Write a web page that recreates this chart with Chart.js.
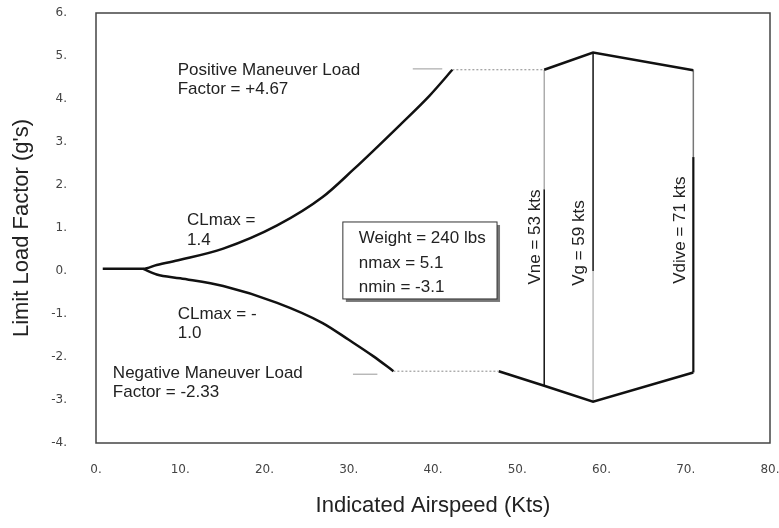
<!DOCTYPE html>
<html>
<head>
<meta charset="utf-8">
<script src="https://cdn.jsdelivr.net/npm/chart.js@4.4.0/dist/chart.umd.min.js"></script>
<style>
html, body { margin: 0; padding: 0; background: #fff; }
#wrap { width: 779px; height: 528px; }
</style>
</head>
<body>
<div id="wrap"><canvas id="vn" width="779" height="528"></canvas></div>
<script>
var xTickValues = [0, 10, 20, 30, 40, 50, 60, 70, 80];
var yTickValues = [-4, -3, -2, -1, 0, 1, 2, 3, 4, 5, 6];

// stall curve, CLmax = 1.4
var posSpeed = [0.8, 5.6, 7.2, 10.0, 15.1, 21.5, 26.9, 30.5, 36.1, 39.6, 42.3];
var posLoad = [0.05, 0.05, 0.14, 0.26, 0.52, 1.06, 1.72, 2.35, 3.40, 4.08, 4.68];
// stall curve, CLmax = -1.0
var negSpeed = [5.6, 7.2, 10.0, 15.1, 21.5, 26.9, 30.0, 32.9, 35.3];
var negLoad = [0.05, -0.08, -0.17, -0.35, -0.74, -1.21, -1.60, -1.98, -2.33];

// maneuver load limits
var posLimitSpeed = [42.3, 53.2];
var posLimitLoad = [4.68, 4.68];
var negLimitSpeed = [35.3, 47.8];
var negLimitLoad = [-2.33, -2.33];

// gust envelope
var gustTopSpeed = [53.2, 59.0, 70.9];
var gustTopLoad = [4.68, 5.08, 4.67];
var gustBotSpeed = [47.8, 53.2, 59.0, 70.9];
var gustBotLoad = [-2.33, -2.67, -3.04, -2.36];

// Vne, Vg, Vdive (scan shows each line part grey, part black)
var vSpeeds = [53.2, 59.0, 70.9];
var vTop = [4.68, 5.08, 4.67];
var vBreak = [1.9, 0.0, 2.65];
var vBottom = [-2.67, -3.04, -2.36];
var vLabels = ['Vne = 53 kts', 'Vg = 59 kts', 'Vdive = 71 kts'];

// little leader dashes next to the maneuver labels
var posLeaderSpeed = [37.6, 41.1];
var posLeaderLoad = [4.70, 4.70];
var negLeaderSpeed = [30.5, 33.4];
var negLeaderLoad = [-2.40, -2.40];

var boxLines = ['Weight = 240 lbs', 'nmax = 5.1', 'nmin = -3.1'];

const pts = (xs, ys) => xs.map((x, i) => ({ x: x, y: ys[i] }));

const line = (data, color, width, extra) => Object.assign({
    data: data,
    showLine: true,
    borderColor: color,
    borderWidth: width,
    pointRadius: 0,
    fill: false
}, extra || {});

var datasets = [
    line(pts(posSpeed, posLoad), '#111', 2.5, { cubicInterpolationMode: 'monotone' }),
    line(pts(negSpeed, negLoad), '#111', 2.5, { cubicInterpolationMode: 'monotone' }),
    line(pts(posLimitSpeed, posLimitLoad), '#888', 1, { borderDash: [2, 2] }),
    line(pts(negLimitSpeed, negLimitLoad), '#888', 1, { borderDash: [2, 2] }),
    line(pts(gustTopSpeed, gustTopLoad), '#111', 2.5),
    line(pts(gustBotSpeed, gustBotLoad), '#111', 2.5),
    line(pts(posLeaderSpeed, posLeaderLoad), '#999', 1),
    line(pts(negLeaderSpeed, negLeaderLoad), '#999', 1)
];
var vUpper = [['#999', 1.2], ['#111', 1.5], ['#777', 1.5]];
var vLower = [['#111', 1.5], ['#aaa', 1.2], ['#111', 2.2]];
vSpeeds.forEach(function (v, i) {
    datasets.push(line([{ x: v, y: vBreak[i] }, { x: v, y: vTop[i] }], vUpper[i][0], vUpper[i][1]));
    datasets.push(line([{ x: v, y: vBottom[i] }, { x: v, y: vBreak[i] }], vLower[i][0], vLower[i][1]));
});

const FONT = '"Liberation Sans", Arial, sans-serif';

var annotate = {
    id: 'annotate',
    afterDatasetsDraw: function (chart) {
        var ctx = chart.ctx, a = chart.chartArea;
        var px = v => chart.scales.x.getPixelForValue(v);
        var py = v => chart.scales.y.getPixelForValue(v);
        ctx.save();

        // frame
        ctx.strokeStyle = '#444';
        ctx.lineWidth = 1.5;
        ctx.strokeRect(a.left, a.top, a.right - a.left, a.bottom - a.top);

        ctx.font = '17px ' + FONT;
        ctx.fillStyle = '#222';
        ctx.textBaseline = 'middle';
        ctx.textAlign = 'left';
        ctx.fillText('Positive Maneuver Load', px(9.7), py(4.67));
        ctx.fillText('Factor = +4.67', px(9.7), py(4.23));
        ctx.fillText('CLmax =', px(10.8), py(1.19));
        ctx.fillText('1.4', px(10.8), py(0.72));
        ctx.fillText('CLmax = -', px(9.7), py(-1.0));
        ctx.fillText('1.0', px(9.7), py(-1.44));
        ctx.fillText('Negative Maneuver Load', px(2.0), py(-2.37));
        ctx.fillText('Factor = -2.33', px(2.0), py(-2.81));

        // info box with shadow
        var bx = px(29.3), by = py(1.14), bw = px(47.6) - bx, bh = py(-0.65) - by;
        ctx.fillStyle = '#777';
        ctx.fillRect(bx + 3, by + 3, bw, bh);
        ctx.fillStyle = '#fff';
        ctx.fillRect(bx, by, bw, bh);
        ctx.strokeStyle = '#333';
        ctx.lineWidth = 1;
        ctx.strokeRect(bx, by, bw, bh);
        ctx.fillStyle = '#222';
        [0.77, 0.19, -0.37].forEach(function (y, i) {
            ctx.fillText(boxLines[i], px(31.2), py(y));
        });

        // speed labels, rotated
        ctx.textAlign = 'center';
        [[52.2, 0.79], [57.4, 0.65], [69.3, 0.95]].forEach(function (p, i) {
            ctx.save();
            ctx.translate(px(p[0]), py(p[1]));
            ctx.rotate(-Math.PI / 2);
            ctx.fillText(vLabels[i], 0, 0);
            ctx.restore();
        });
        ctx.restore();
    }
};

new Chart(document.getElementById('vn'), {
    type: 'scatter',
    data: { datasets: datasets },
    options: {
        responsive: false,
        animation: false,
        layout: { padding: { top: 13, right: 9, left: 0, bottom: 0 } },
        plugins: { legend: { display: false }, tooltip: { enabled: false } },
        scales: {
            x: {
                type: 'linear', min: 0, max: 80,
                afterBuildTicks: s => { s.ticks = xTickValues.map(v => ({ value: v })); },
                afterFit: s => { s.height = 85; s.paddingLeft = 0; s.paddingRight = 0; },
                grid: { display: false, drawTicks: false },
                border: { display: false },
                ticks: {
                    padding: 20, color: '#444', maxRotation: 0, autoSkip: false,
                    font: { family: 'DejaVu Sans', size: 12 },
                    callback: v => v + '.'
                },
                title: {
                    display: true, text: 'Indicated Airspeed (Kts)', color: '#222',
                    font: { family: FONT, size: 22 }, padding: { top: 0, bottom: 9 }
                }
            },
            y: {
                type: 'linear', min: -4, max: 6,
                afterBuildTicks: s => { s.ticks = yTickValues.map(v => ({ value: v })); },
                afterFit: s => { s.width = 96; s.paddingTop = 0; s.paddingBottom = 0; },
                grid: { display: false, drawTicks: false },
                border: { display: false },
                ticks: {
                    padding: 29, color: '#444', autoSkip: false,
                    font: { family: 'DejaVu Sans', size: 12 },
                    callback: v => v + '.'
                },
                title: {
                    display: true, text: "Limit Load Factor (g's)", color: '#222',
                    font: { family: FONT, size: 22 }, padding: { top: 9, bottom: 0 }
                }
            }
        }
    },
    plugins: [annotate]
});
</script>
</body>
</html>
